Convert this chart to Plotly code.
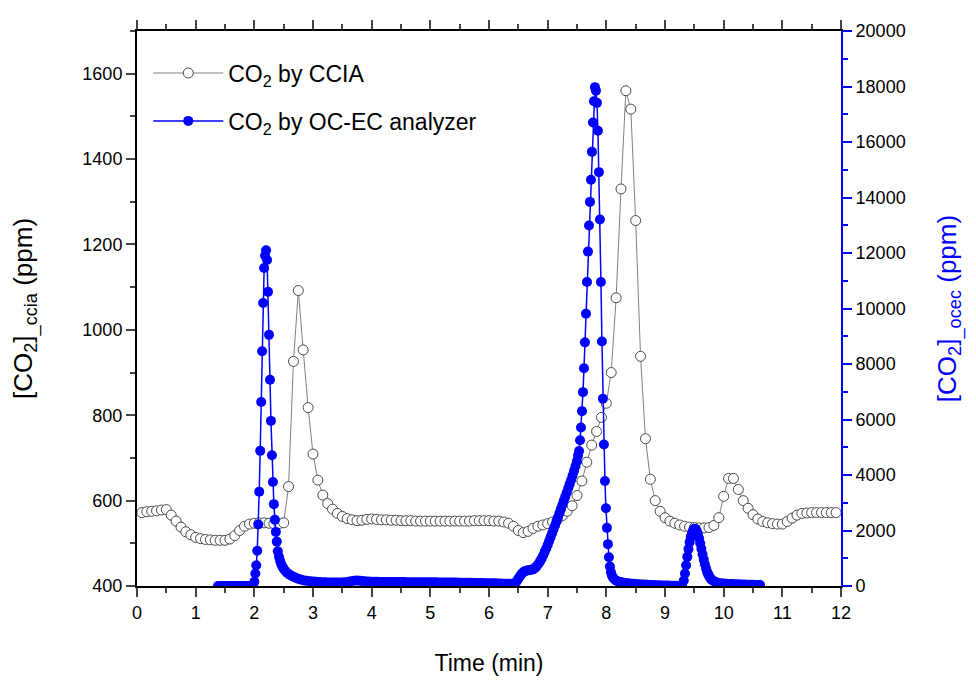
import plotly.graph_objects as go

# ---------------- data ----------------
# CCIA CO2 (left axis, ppm), sampled every ~5 s
t_ccia = [0.083, 0.167, 0.25, 0.333, 0.417, 0.5, 0.583, 0.667, 0.75, 0.833, 0.917, 1.0,
          1.083, 1.167, 1.25, 1.333, 1.417, 1.5, 1.583, 1.667, 1.75, 1.833, 1.917, 2.0,
          2.083, 2.167, 2.25, 2.333, 2.417, 2.5, 2.583, 2.667, 2.75, 2.833, 2.917, 3.0,
          3.083, 3.167, 3.25, 3.333, 3.417, 3.5, 3.583, 3.667, 3.75, 3.833, 3.917, 4.0,
          4.083, 4.167, 4.25, 4.333, 4.417, 4.5, 4.583, 4.667, 4.75, 4.833, 4.917, 5.0,
          5.083, 5.167, 5.25, 5.333, 5.417, 5.5, 5.583, 5.667, 5.75, 5.833, 5.917, 6.0,
          6.083, 6.167, 6.25, 6.333, 6.417, 6.5, 6.583, 6.667, 6.75, 6.833, 6.917, 7.0,
          7.083, 7.167, 7.25, 7.333, 7.417, 7.5, 7.583, 7.667, 7.75, 7.833, 7.917, 8.0,
          8.083, 8.167, 8.25, 8.333, 8.417, 8.5, 8.583, 8.667, 8.75, 8.833, 8.917, 9.0,
          9.083, 9.167, 9.25, 9.333, 9.417, 9.5, 9.583, 9.667, 9.75, 9.833, 9.917, 10.0,
          10.083, 10.167, 10.25, 10.333, 10.417, 10.5, 10.583, 10.667, 10.75, 10.833, 10.917, 11.0,
          11.083, 11.167, 11.25, 11.333, 11.417, 11.5, 11.583, 11.667, 11.75, 11.833, 11.917]
co2_ccia = [572, 574, 575, 576, 578, 579, 566, 552, 538, 527, 520, 514,
            511, 509, 508, 507, 507, 507, 510, 518, 530, 540, 545, 547,
            548, 548, 547, 546, 546, 548, 633, 926, 1092, 953, 818, 709,
            648, 613, 593, 580, 570, 563, 558, 555, 553, 554, 556, 557,
            556, 555, 555, 554, 554, 553, 553, 553, 552, 552, 552, 552,
            552, 552, 552, 552, 552, 552, 552, 552, 553, 553, 553, 553,
            552, 552, 550, 547, 540, 530, 525, 528, 535, 540, 543, 546,
            550, 556, 565, 575, 588, 612, 646, 690, 730, 762, 795, 828,
            900, 1075, 1330, 1560, 1517, 1256, 938, 745, 650, 600, 575, 560,
            552, 547, 543, 540, 538, 537, 536, 536, 537, 542, 560, 610,
            652, 652, 626, 600, 582, 567, 557, 551, 548, 546, 545, 545,
            551, 559, 566, 570, 571, 572, 572, 572, 572, 572, 572]

# OC-EC analyzer CO2 (right axis, ppm)
t_ocec = [1.38, 1.42, 1.46, 1.50, 1.54, 1.58, 1.62, 1.66, 1.70, 1.74, 1.78, 1.82, 1.86, 1.90, 1.94, 1.97,
          2.000, 2.017, 2.033, 2.050, 2.067, 2.083, 2.100, 2.117, 2.133, 2.150, 2.167, 2.183,
          2.200, 2.217, 2.233, 2.250, 2.267, 2.283, 2.300, 2.317, 2.333, 2.350, 2.367,
          2.383, 2.400, 2.420, 2.440, 2.460, 2.480, 2.500, 2.530, 2.560, 2.600, 2.640, 2.680,
          2.720, 2.760, 2.800, 2.850, 2.900, 2.950, 3.000, 3.050, 3.100, 3.150, 3.200, 3.250,
          3.300, 3.350, 3.400, 3.450, 3.500, 3.550, 3.600, 3.650, 3.700, 3.750, 3.800, 3.850,
          3.900, 3.950, 4.000,
          4.05, 4.10, 4.15, 4.20, 4.25, 4.30, 4.35, 4.40, 4.45, 4.50, 4.55, 4.60, 4.65, 4.70,
          4.75, 4.80, 4.85, 4.90, 4.95, 5.00, 5.05, 5.10, 5.15, 5.20, 5.25, 5.30, 5.35, 5.40,
          5.45, 5.50, 5.55, 5.60, 5.65, 5.70, 5.75, 5.80, 5.85, 5.90, 5.95, 6.00, 6.05, 6.10,
          6.15, 6.20, 6.25, 6.30, 6.35, 6.40,
          6.450, 6.475, 6.500, 6.525, 6.550, 6.575, 6.600, 6.625, 6.650, 6.675, 6.700, 6.725,
          6.750, 6.775, 6.800, 6.825, 6.850, 6.875, 6.900, 6.925, 6.950, 6.975, 7.000, 7.025,
          7.050, 7.075, 7.100, 7.125, 7.150, 7.175, 7.200, 7.225, 7.250, 7.275, 7.300, 7.325,
          7.350, 7.375, 7.400, 7.425, 7.450, 7.475, 7.500, 7.518,
          7.535, 7.552, 7.568, 7.585, 7.602, 7.619, 7.636, 7.653, 7.670, 7.687, 7.704, 7.721,
          7.738, 7.755, 7.772, 7.789, 7.806,
          7.823, 7.840, 7.857, 7.874, 7.891, 7.908, 7.925, 7.942, 7.959, 7.976, 7.993, 8.010,
          8.027, 8.044, 8.061, 8.078, 8.095, 8.115, 8.140, 8.170, 8.200, 8.240, 8.280, 8.320,
          8.360, 8.400, 8.450, 8.500, 8.550, 8.600, 8.650, 8.700, 8.750, 8.800, 8.850, 8.900,
          8.950, 9.000, 9.050, 9.100, 9.150, 9.200, 9.250,
          9.290, 9.320, 9.340, 9.360, 9.380, 9.400, 9.420, 9.440, 9.460, 9.480, 9.500, 9.520,
          9.540, 9.560, 9.580, 9.600, 9.620, 9.640, 9.660, 9.680, 9.700, 9.720, 9.740, 9.760,
          9.780, 9.800, 9.830, 9.860, 9.900, 9.950, 10.000, 10.050, 10.100, 10.150, 10.200,
          10.250, 10.300, 10.350, 10.400, 10.450, 10.500, 10.550, 10.600, 10.620]
co2_ocec = [0, 0, 0, 0, 0, 0, 0, 0, 0, 0, 0, 0, 0, 0, 0, 0,
            150, 450, 750, 1270, 2215, 3400, 4870, 6630, 8460, 10200, 11460, 11900,
            12100, 11750, 10600, 9050, 7430, 5950, 4710, 3750, 2950, 2390, 1950,
            1600, 1250, 1050, 900, 780, 690, 620, 540, 470, 410, 360, 320,
            280, 250, 225, 200, 185, 170, 160, 150, 143, 137, 132, 128,
            125, 123, 122, 123, 127, 138, 155, 175, 190, 195, 188, 177,
            166, 158, 152,
            150, 149, 148, 147, 146, 145, 144, 143, 142, 141, 140, 139, 139, 138,
            137, 136, 135, 134, 134, 133, 132, 131, 130, 129, 129, 128, 127, 125,
            123, 121, 119, 117, 115, 113, 111, 109, 107, 105, 103, 101, 99, 96,
            93, 89, 85, 81, 77, 78,
            110, 180, 260, 340, 420, 480, 520, 545, 560, 568, 575, 585,
            600, 635, 680, 745, 820, 905, 1000, 1110, 1230, 1350, 1480, 1620,
            1760, 1900, 2040, 2180, 2320, 2470, 2620, 2770, 2920, 3070, 3220, 3370,
            3520, 3670, 3820, 3980, 4150, 4320, 4500, 4700,
            4866, 5255, 5714, 6301, 6986, 7845, 8780, 9813, 10955, 12050, 12994, 13842,
            14641, 15645, 16705, 17468, 17977,
            17850, 17410, 16408, 14913, 13206, 10955, 8810, 6750, 5100, 3781, 2803, 2096,
            1508, 1035, 700, 500, 380, 300, 240, 190, 160, 140, 125, 112,
            100, 92, 82, 74, 66, 58, 50, 44, 38, 33, 28, 24,
            20, 17, 14, 12, 10, 10, 12,
            40, 200, 450, 750, 1050, 1330, 1580, 1780, 1920, 2010, 2060, 2050,
            1990, 1880, 1720, 1540, 1340, 1140, 950, 780, 630, 500, 400, 320,
            260, 215, 175, 145, 120, 100, 90, 82, 76, 70, 65,
            60, 56, 52, 48, 45, 42, 39, 36, 35]

assert len(t_ccia) == len(co2_ccia)
assert len(t_ocec) == len(co2_ocec)

x_ticks = list(range(0, 13))
FONT = "Liberation Sans, Arial, sans-serif"
BLUE = "#0000ff"

fig = go.Figure()
fig.add_trace(go.Scatter(
    x=t_ccia, y=co2_ccia, mode="lines+markers", name="CO<sub>2</sub> by CCIA",
    legendgroup="a",
    line=dict(color="#808080", width=1),
    marker=dict(symbol="circle", size=10, color="white", line=dict(color="#4a4a4a", width=1)),
    yaxis="y"))
fig.add_trace(go.Scatter(
    x=t_ocec, y=co2_ocec, mode="lines+markers", name="CO<sub>2</sub> by OC-EC analyzer",
    legendgroup="b",
    line=dict(color=BLUE, width=1.5),
    marker=dict(symbol="circle", size=10, color=BLUE),
    yaxis="y2"))

# the page body adds an 8 px offset; margins compensate so the plot area
# lands at x 137..841, y 20..586 in the window
fig.update_layout(
    width=976, height=690,
    margin=dict(l=129, r=143, t=12, b=112),
    paper_bgcolor="white", plot_bgcolor="white",
    font=dict(family=FONT, size=18, color="black"),
    showlegend=True,
    legend=dict(x=0.016, y=0.963, xanchor="left", yanchor="top",
                bgcolor="rgba(0,0,0,0)", font=dict(size=23),
                itemwidth=70, tracegroupgap=15),
    xaxis=dict(range=[0, 12], tickvals=x_ticks, ticks="outside", ticklen=9, tickwidth=1.5,
               minor=dict(dtick=0.5, ticks="outside", ticklen=5, tickwidth=1.5),
               showline=True, linecolor="black", linewidth=2, mirror="ticks",
               showgrid=False, zeroline=False,
               title=dict(text="Time (min)", font=dict(size=23), standoff=33)),
    yaxis=dict(range=[400, 1700], tick0=400, dtick=200, ticks="outside", ticklen=9, tickwidth=1.5,
               minor=dict(dtick=100, ticks="outside", ticklen=5, tickwidth=1.5),
               showline=True, linecolor="black", linewidth=2,
               showgrid=False, zeroline=False,
               title=dict(text="[CO<sub>2</sub>]<sub>_ccia</sub> (ppm)", font=dict(size=26), standoff=44)),
    yaxis2=dict(range=[0, 20000], tick0=0, dtick=2000, overlaying="y", side="right",
                tickformat="d",
                ticks="outside", ticklen=9, tickwidth=1.5, tickcolor=BLUE,
                minor=dict(dtick=1000, ticks="outside", ticklen=5, tickwidth=1.5, tickcolor=BLUE),
                showline=True, linecolor=BLUE, linewidth=2,
                showgrid=False, zeroline=False,
                tickfont=dict(color="black"),
                title=dict(text="[CO<sub>2</sub>]<sub>_ocec</sub> (ppm)", font=dict(size=26, color=BLUE), standoff=33)),
)

fig.write_html("out.html")
